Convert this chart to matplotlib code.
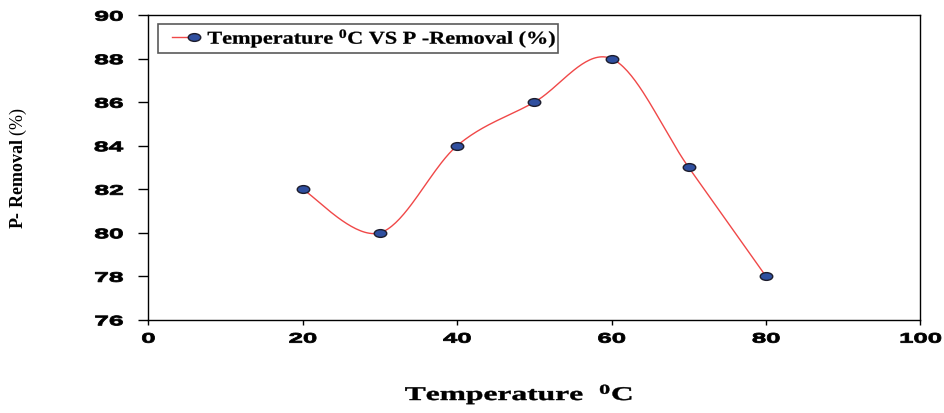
import numpy as np
import matplotlib.pyplot as plt
from matplotlib.lines import Line2D
from matplotlib.path import Path
from matplotlib.transforms import Affine2D
from matplotlib.patheffects import AbstractPathEffect
from matplotlib.legend_handler import HandlerLine2D

plt.rcParams["mathtext.fontset"] = "custom"
plt.rcParams["mathtext.rm"] = "Liberation Serif"
plt.rcParams["mathtext.bf"] = "Liberation Serif:bold"

# Data
temperature = [20, 30, 40, 50, 60, 70, 80]
p_removal = [82, 80, 84, 86, 88, 83, 78]


class Stretch(AbstractPathEffect):
    """Widen glyphs horizontally (the original image is stretched sideways)."""

    def __init__(self, sx, anchor="center", stroke=0.0):
        super().__init__()
        self.sx = sx
        self.anchor = anchor
        self.stroke = stroke

    def draw_path(self, renderer, gc, tpath, affine, rgbFace=None):
        v = tpath.vertices
        cx = 0.0
        if len(v):
            x0, x1 = v[:, 0].min(), v[:, 0].max()
            cx = {"left": x0, "center": (x0 + x1) / 2, "right": x1}[self.anchor]
        t = Affine2D().translate(-cx, 0).scale(self.sx, 1).translate(cx, 0) + affine
        gc0 = renderer.new_gc()
        gc0.copy_properties(gc)
        if self.stroke > 0 and rgbFace is not None:
            gc0.set_linewidth(self.stroke)
            gc0.set_foreground(rgbFace)
        renderer.draw_path(gc0, tpath, t, rgbFace)
        gc0.restore()


class EndMarkerHandler(HandlerLine2D):
    """Legend line with a single marker at its right end (Excel style)."""

    def create_artists(self, legend, orig_handle, xdescent, ydescent,
                       width, height, fontsize, trans):
        pad = self._marker_pad * fontsize
        x0, x1 = -xdescent + pad, width - xdescent - pad
        y = (height - ydescent) / 2
        line = Line2D([x0, x1], [y, y], color=orig_handle.get_color(),
                      linewidth=orig_handle.get_linewidth())
        mark = Line2D([x1], [y], linestyle="none",
                      marker=orig_handle.get_marker(),
                      markersize=orig_handle.get_markersize(),
                      markerfacecolor=orig_handle.get_markerfacecolor(),
                      markeredgecolor=orig_handle.get_markeredgecolor(),
                      markeredgewidth=orig_handle.get_markeredgewidth())
        line.set_transform(trans)
        mark.set_transform(trans)
        return [line, mark]


def smooth_curve(xs, ys, n=40):
    """Excel-like smoothed line: cubic Bezier segments with Catmull-Rom tangents."""
    pts = np.column_stack([xs, ys]).astype(float)
    out = []
    for i in range(len(pts) - 1):
        p0 = pts[i - 1] if i > 0 else pts[i]
        p1 = pts[i]
        p2 = pts[i + 1]
        p3 = pts[i + 2] if i + 2 < len(pts) else pts[i + 1]
        c1 = p1 + (p2 - p0) / 6.0
        c2 = p2 - (p3 - p1) / 6.0
        t = np.linspace(0, 1, n)[:, None]
        seg = ((1 - t) ** 3) * p1 + 3 * ((1 - t) ** 2) * t * c1 + 3 * (1 - t) * t ** 2 * c2 + t ** 3 * p2
        out.append(seg if i == 0 else seg[1:])
    out = np.vstack(out)
    return out[:, 0], out[:, 1]


# wide oval marker, like the stretched circles in the original
oval = Affine2D().scale(1.0, 0.62).transform_path(Path.unit_circle())
line_color = "#f04848"
face_color = "#2f4f9f"
edge_color = "#1c1c2c"

fig = plt.figure(figsize=(9.44, 4.14), dpi=100)
ax = fig.add_axes([0.157, 0.225, 0.818, 0.736])

sx, sy = smooth_curve(temperature, p_removal)
ax.plot(sx, sy, color=line_color, linewidth=1.0, zorder=2)
ax.plot(temperature, p_removal, linestyle="none", marker=oval, markersize=9,
        markerfacecolor=face_color, markeredgecolor=edge_color,
        markeredgewidth=1.0, zorder=3)

ax.set_xlim(0, 100)
ax.set_ylim(76, 90)
ax.set_xticks(range(0, 101, 20))
ax.set_yticks(range(76, 91, 2))
ax.tick_params(axis="x", direction="out", length=3.5, width=1, pad=5)
ax.tick_params(axis="y", direction="out", length=7, width=1, pad=11)
for lab in ax.get_xticklabels():
    lab.set_fontfamily("Liberation Sans")
    lab.set_fontweight("bold")
    lab.set_fontsize(10)
    lab.set_path_effects([Stretch(1.85, "center", stroke=0.6)])
for lab in ax.get_yticklabels():
    lab.set_fontfamily("Liberation Sans")
    lab.set_fontweight("bold")
    lab.set_fontsize(10)
    lab.set_path_effects([Stretch(1.9, "right", stroke=0.6)])
for sp in ax.spines.values():
    sp.set_linewidth(1.0)

fig.text(0.55, 0.045, r"Temperature  $\mathbf{^{0}}$C", ha="center", va="center",
         fontfamily="Liberation Serif", fontweight="bold", fontsize=14,
         path_effects=[Stretch(1.62, "center", stroke=0.3)])
fig.text(0.02, 0.594, r"P- Removal $\mathrm{(\%)}$", ha="center", va="center",
         rotation=90, fontfamily="Liberation Serif", fontweight="bold", fontsize=13)

handle = Line2D([0, 1], [0, 0], color=line_color, linewidth=1.0, marker=oval,
                markersize=9, markerfacecolor=face_color,
                markeredgecolor=edge_color, markeredgewidth=1.0)
leg = ax.legend([handle], [r"Temperature $\mathbf{^{0}}$C VS P -Removal (%)"],
                handler_map={handle: EndMarkerHandler(marker_pad=0.58)},
                loc="upper left", bbox_to_anchor=(0.013, 0.5, 0.518, 0.472),
                mode="expand", borderaxespad=0, frameon=True,
                fancybox=False, edgecolor="#303030", handlelength=2.37,
                borderpad=0.2, handletextpad=0.15,
                prop={"family": "Liberation Serif", "weight": "bold", "size": 13})
leg.get_frame().set_linewidth(1.2)
for txt in leg.get_texts():
    txt.set_path_effects([Stretch(1.23, "left", stroke=0.2)])

plt.savefig("out.png", dpi=100)
